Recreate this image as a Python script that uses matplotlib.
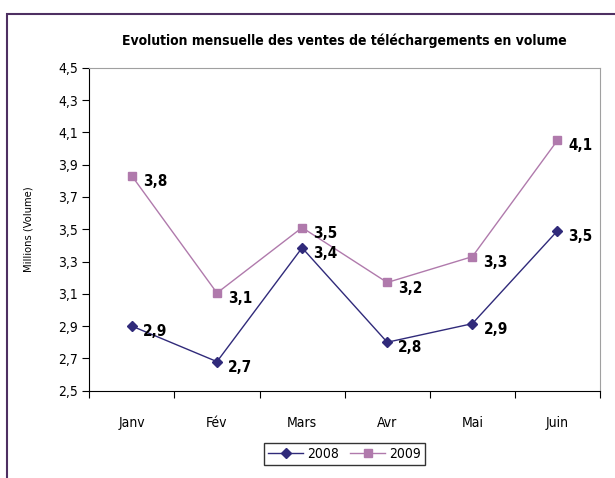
import matplotlib
matplotlib.use("Agg")
import matplotlib.pyplot as plt
from matplotlib.patches import Rectangle

months = ["Janv", "Fév", "Mars", "Avr", "Mai", "Juin"]
v2008 = [2.90, 2.68, 3.385, 2.80, 2.915, 3.49]
v2009 = [3.83, 3.105, 3.51, 3.17, 3.33, 4.05]
lab2008 = ["2,9", "2,7", "3,4", "2,8", "2,9", "3,5"]
lab2009 = ["3,8", "3,1", "3,5", "3,2", "3,3", "4,1"]
yticks = [2.5, 2.7, 2.9, 3.1, 3.3, 3.5, 3.7, 3.9, 4.1, 4.3, 4.5]

plt.rcParams['font.family'] = ["DejaVu Sans"]
plt.rcParams['font.stretch'] = "condensed"

W, H = 615, 478
fig = plt.figure(figsize=(W / 100, H / 100), dpi=100)
fig.patches.append(Rectangle((7 / W, -0.1), 1.2, (H - 14) / H + 0.1, transform=fig.transFigure,
                             fill=False, edgecolor="#4e2f62", linewidth=1.5))

ax = fig.add_axes([89.3 / W, (H - 390.7) / H, (600 - 89.3) / W, (390.7 - 67.7) / H])
x = list(range(len(months)))
c08 = "#302a7a"
c09 = "#b07aac"
ax.plot(x, v2008, color=c08, marker="D", markersize=5, linewidth=1, label="2008")
ax.plot(x, v2009, color=c09, marker="s", markersize=5.5, linewidth=1, label="2009")
for xi, v, t in zip(x, v2008, lab2008):
    ax.annotate(t, (xi, v), xytext=(8, -4), textcoords="offset points", fontsize=11,
                fontweight="bold", va="center", ha="left")
for xi, v, t in zip(x, v2009, lab2009):
    ax.annotate(t, (xi, v), xytext=(8, -4), textcoords="offset points", fontsize=11,
                fontweight="bold", va="center", ha="left")

ax.set_xlim(-0.5, len(months) - 0.5)
ax.set_ylim(2.5, 4.5)
ax.set_yticks(yticks)
ax.set_yticklabels([f"{t:.1f}".replace(".", ",") for t in yticks], fontsize=10)
ax.set_xticks([i - 0.5 for i in range(len(months) + 1)])
ax.set_xticklabels([])
ax.set_xticks(x, minor=True)
ax.set_xticklabels(months, minor=True, fontsize=10)
ax.tick_params(axis="x", which="minor", length=0, pad=18)
ax.tick_params(axis="x", which="major", length=5, direction="out", color="black")
ax.tick_params(axis="y", length=5, direction="out", pad=3)
for s in ["top", "right"]:
    ax.spines[s].set_color("#a0a0a0")
for s in ["left", "bottom"]:
    ax.spines[s].set_color("black")
ax.set_ylabel("Millions (Volume)", fontsize=8, labelpad=18)
ax.set_title("Evolution mensuelle des ventes de téléchargements en volume",
             fontsize=10, fontweight="bold", pad=16)

leg = ax.legend(loc="upper center", bbox_to_anchor=(0.5, -0.14), ncol=2, fontsize=10,
                frameon=True, fancybox=False, edgecolor="black", handlelength=2.5,
                handletextpad=0.3, columnspacing=0.8, borderpad=0.3)
leg.get_frame().set_linewidth(1)

fig.savefig("out.png", dpi=100)
